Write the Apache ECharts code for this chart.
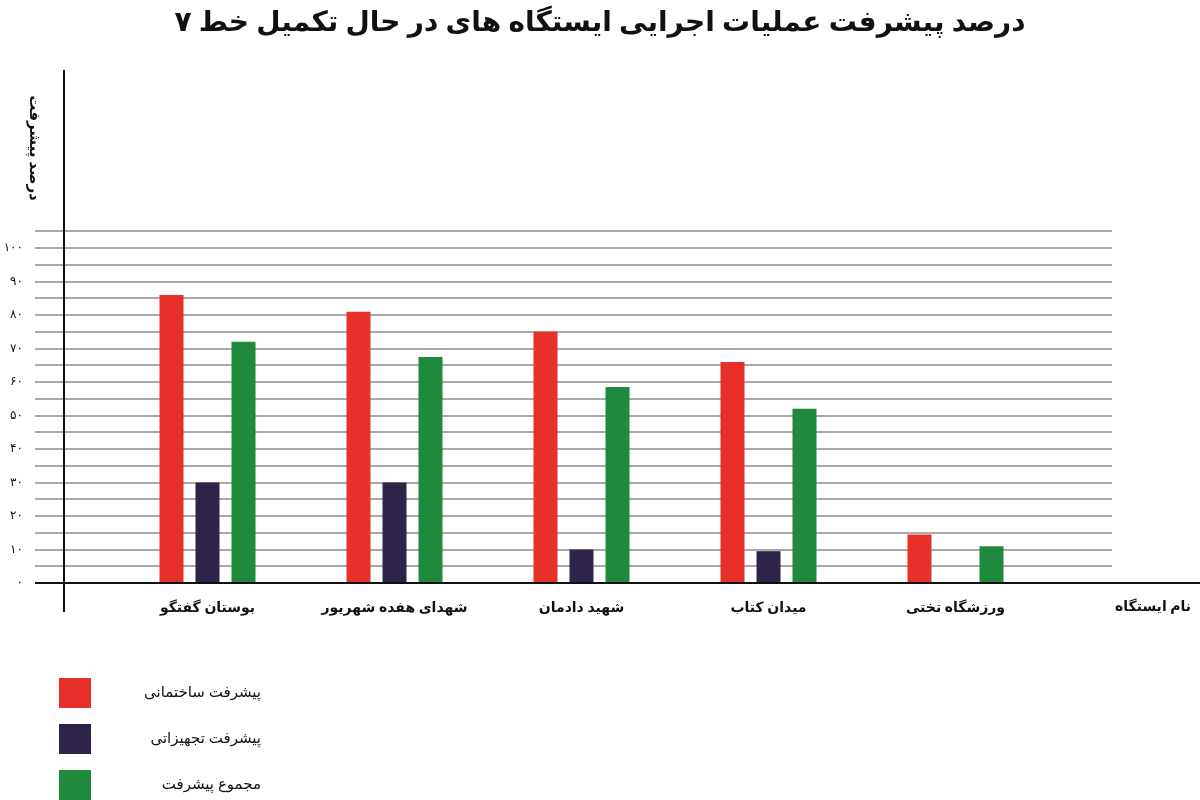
<!DOCTYPE html>
<html><head><meta charset="utf-8">
<script src="https://cdn.jsdelivr.net/npm/echarts@6/dist/echarts.min.js"></script>
<style>html,body{margin:0;padding:0;background:#fff}#c{width:1200px;height:800px}</style>
</head><body><div id="c"></div>
<script>
const categories = ['بوستان گفتگو','شهدای هفده شهریور','شهید دادمان','میدان کتاب','ورزشگاه تختی'];
const construction = [86, 81, 75, 66, 14.5];
const equipment = [30, 30, 10, 9.5, null];
const total = [72, 67.5, 58.5, 52, 11];
const seriesNames = ['پیشرفت ساختمانی','پیشرفت تجهیزاتی','مجموع پیشرفت'];
const fa = d => String(d).replace(/\d/g, x => '۰۱۲۳۴۵۶۷۸۹'[x]);
const font = '"Noto Sans", "DejaVu Sans", sans-serif';
const legendTops = [673, 719, 765];
const chart = echarts.init(document.getElementById('c'));
chart.setOption({
  animation:false,
  title:{text:'درصد پیشرفت عملیات اجرایی ایستگاه های در حال تکمیل خط ۷',left:'center',top:4,
    textStyle:{fontSize:28,fontWeight:'bold',color:'#111',fontFamily:font}},
  legend: seriesNames.map((n,i)=>({left:54,top:legendTops[i],itemWidth:32,itemHeight:30,icon:'rect',
    data:[n],formatter:'{a|'+n+'}',
    textStyle:{rich:{a:{fontSize:15,color:'#111',fontFamily:font,width:165,align:'right'}}}})),
  grid:[
    {left:114,right:151,top:248,height:335},
    {left:35,right:88,top:231,height:352}
  ],
  xAxis:[
    {type:'category',gridIndex:0,data:categories,axisLine:{show:false},axisTick:{show:false},
      axisLabel:{interval:0,fontSize:14,fontWeight:'bold',color:'#111',margin:18,fontFamily:font}},
    {type:'category',gridIndex:1,data:[''],show:false}
  ],
  yAxis:[
    {type:'value',gridIndex:0,min:0,max:100,interval:10,splitLine:{show:false},axisLine:{show:false},
      axisLabel:{show:false}},
    {type:'value',gridIndex:1,min:0,max:105,interval:5,axisLine:{show:false},axisTick:{show:false},
      splitLine:{lineStyle:{color:'#a8a8a8',width:2}},
      axisLabel:{fontSize:12,color:'#111',margin:12,fontFamily:font,
        formatter:v=> (v%10===0 && v<=100) ? fa(v) : ''}}
  ],
  graphic:[
    {type:'line',shape:{x1:64,y1:70,x2:64,y2:612},style:{stroke:'#111',lineWidth:2},z:10},
    {type:'line',shape:{x1:35,y1:583,x2:1200,y2:583},style:{stroke:'#111',lineWidth:2},z:10},
    {type:'text',left:1115,top:600,style:{text:'نام ایستگاه',fill:'#111',font:'bold 14px '+font}},
    {type:'group',x:32,y:148,rotation:-Math.PI/2,children:[
      {type:'text',left:'center',style:{text:'درصد پیشرفت',fill:'#111',font:'bold 15px '+font,x:-45,y:-10}}
    ]}
  ],
  series:[
    {name:seriesNames[0],type:'bar',data:construction,barWidth:24,barGap:'50%',itemStyle:{color:'#e8302a'}},
    {name:seriesNames[1],type:'bar',data:equipment,barWidth:24,barGap:'50%',itemStyle:{color:'#2e2447'}},
    {name:seriesNames[2],type:'bar',data:total,barWidth:24,barGap:'50%',itemStyle:{color:'#1f8a3b'}},
    {type:'line',xAxisIndex:1,yAxisIndex:1,data:[],silent:true}
  ]
});
</script></body></html>
